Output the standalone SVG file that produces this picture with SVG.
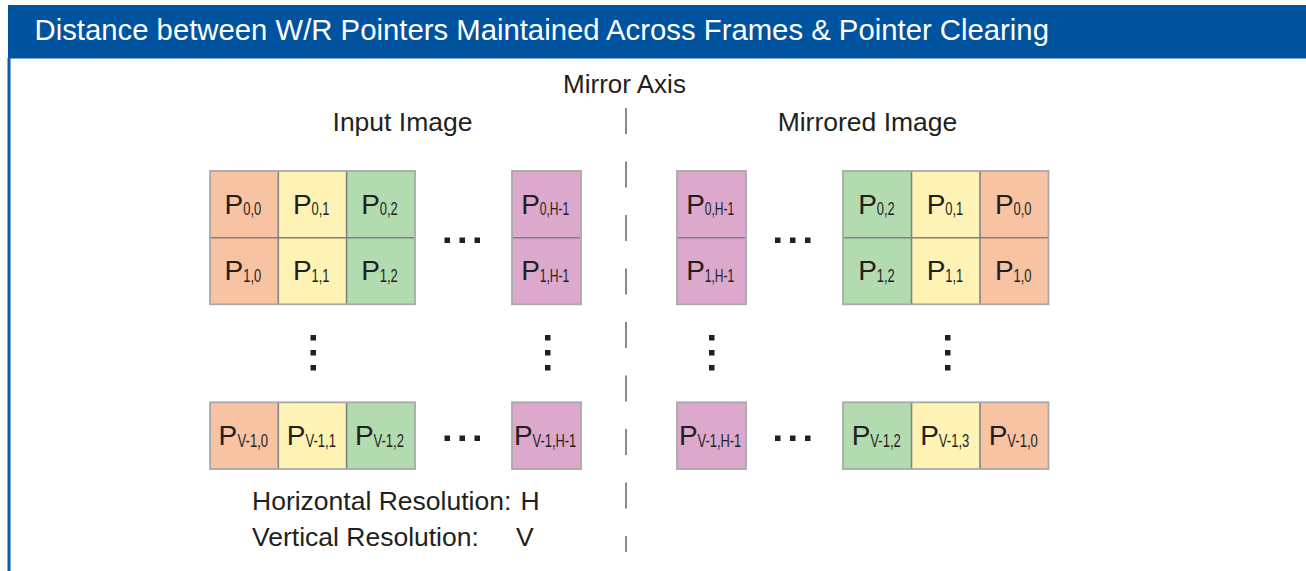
<svg xmlns="http://www.w3.org/2000/svg" width="1306" height="571" viewBox="0 0 1306 571">
<style>
.lbl{font-family:"Liberation Sans",Arial,sans-serif;fill:#231f20}
.P{font-family:"Liberation Sans",Arial,sans-serif;font-size:28px;fill:#231f20}
.s{font-family:"Liberation Sans",Arial,sans-serif;font-size:18px;fill:#231f20}
.pe{fill:#f8c3a3}.ye{fill:#fef3b5}.gr{fill:#b3dbb0}.ma{fill:#dca8cc}
.out{fill:none;stroke:#a7a9ac;stroke-width:1.8}
.div{stroke:#808285;stroke-width:1.6}
.dot{fill:#231f20}
</style>
<rect width="1306" height="571" fill="#ffffff"/>
<g id="frame">
<rect x="8" y="5" width="1298" height="53.5" fill="#00539f"/>
<rect x="7.5" y="58" width="3" height="513" fill="#0b5aa6"/>
<text x="34.5" y="40" font-family="Liberation Sans, Arial, sans-serif" font-size="29.3" fill="#ffffff">Distance between W/R Pointers Maintained Across Frames &amp; Pointer Clearing</text>
</g>
<g id="labels">
<text class="lbl" x="624.5" y="93.3" font-size="26" text-anchor="middle">Mirror Axis</text>
<text class="lbl" x="402.5" y="131" font-size="26.5" text-anchor="middle">Input Image</text>
<text class="lbl" x="867.5" y="131" font-size="26.5" text-anchor="middle">Mirrored Image</text>
<text class="lbl" x="252" y="509.5" font-size="26.5">Horizontal Resolution: <tspan x="520.5">H</tspan></text>
<text class="lbl" x="252" y="545.5" font-size="26.5">Vertical Resolution: <tspan x="516">V</tspan></text>
</g>
<g id="mirror-axis">
<line x1="626" y1="108" x2="626" y2="552" stroke="#58595b" stroke-width="1.4" stroke-dasharray="26 27.5"/>
</g>
<g id="connectors"></g>

<!-- Input image: top grid -->
<g id="input-grid-top">
<rect class="pe" x="210" y="171" width="68.3" height="133.3"/>
<rect class="ye" x="278.3" y="171" width="68.3" height="133.3"/>
<rect class="gr" x="346.6" y="171" width="68.4" height="133.3"/>
<line class="div" x1="278.3" y1="171" x2="278.3" y2="304.3"/>
<line class="div" x1="346.6" y1="171" x2="346.6" y2="304.3"/>
<line class="div" x1="210" y1="237.7" x2="415" y2="237.7"/>
<rect class="out" x="210" y="171" width="205" height="133.3"/>
</g>
<g id="in-p00"><text class="P" x="224.6" y="213.5">P</text><text class="s" x="243.2" y="215.3" textLength="18" lengthAdjust="spacingAndGlyphs">0,0</text></g>
<g id="in-p01"><text class="P" x="292.9" y="213.5">P</text><text class="s" x="311.5" y="215.3" textLength="18" lengthAdjust="spacingAndGlyphs">0,1</text></g>
<g id="in-p02"><text class="P" x="361.2" y="213.5">P</text><text class="s" x="379.8" y="215.3" textLength="18" lengthAdjust="spacingAndGlyphs">0,2</text></g>
<g id="in-p10"><text class="P" x="224.6" y="280.2">P</text><text class="s" x="243.2" y="282" textLength="18" lengthAdjust="spacingAndGlyphs">1,0</text></g>
<g id="in-p11"><text class="P" x="292.9" y="280.2">P</text><text class="s" x="311.5" y="282" textLength="18" lengthAdjust="spacingAndGlyphs">1,1</text></g>
<g id="in-p12"><text class="P" x="361.2" y="280.2">P</text><text class="s" x="379.8" y="282" textLength="18" lengthAdjust="spacingAndGlyphs">1,2</text></g>

<g id="in-col-h1">
<rect class="ma" x="512" y="171" width="69" height="133.3"/>
<line class="div" x1="512" y1="237.7" x2="581" y2="237.7"/>
<rect class="out" x="512" y="171" width="69" height="133.3"/>
<text class="P" x="521.2" y="213.5">P</text><text class="s" x="539.8" y="215.3" textLength="29.5" lengthAdjust="spacingAndGlyphs">0,H-1</text>
<text class="P" x="521.2" y="280.2">P</text><text class="s" x="539.8" y="282" textLength="29.5" lengthAdjust="spacingAndGlyphs">1,H-1</text>
</g>

<!-- Mirrored image: top -->
<g id="mir-col-h1">
<rect class="ma" x="677" y="171" width="69" height="133.3"/>
<line class="div" x1="677" y1="237.7" x2="746" y2="237.7"/>
<rect class="out" x="677" y="171" width="69" height="133.3"/>
<text class="P" x="686.2" y="213.5">P</text><text class="s" x="704.8" y="215.3" textLength="29.5" lengthAdjust="spacingAndGlyphs">0,H-1</text>
<text class="P" x="686.2" y="280.2">P</text><text class="s" x="704.8" y="282" textLength="29.5" lengthAdjust="spacingAndGlyphs">1,H-1</text>
</g>
<g id="mirror-grid-top">
<rect class="gr" x="843" y="171" width="68.5" height="133.3"/>
<rect class="ye" x="911.5" y="171" width="68.5" height="133.3"/>
<rect class="pe" x="980" y="171" width="68.5" height="133.3"/>
<line class="div" x1="911.5" y1="171" x2="911.5" y2="304.3"/>
<line class="div" x1="980" y1="171" x2="980" y2="304.3"/>
<line class="div" x1="843" y1="237.7" x2="1048.5" y2="237.7"/>
<rect class="out" x="843" y="171" width="205.5" height="133.3"/>
</g>
<g id="mir-p02"><text class="P" x="858.2" y="213.5">P</text><text class="s" x="876.8" y="215.3" textLength="18" lengthAdjust="spacingAndGlyphs">0,2</text></g>
<g id="mir-p01"><text class="P" x="926.7" y="213.5">P</text><text class="s" x="945.3" y="215.3" textLength="18" lengthAdjust="spacingAndGlyphs">0,1</text></g>
<g id="mir-p00"><text class="P" x="994.9" y="213.5">P</text><text class="s" x="1013.5" y="215.3" textLength="18" lengthAdjust="spacingAndGlyphs">0,0</text></g>
<g id="mir-p12"><text class="P" x="858.2" y="280.2">P</text><text class="s" x="876.8" y="282" textLength="18" lengthAdjust="spacingAndGlyphs">1,2</text></g>
<g id="mir-p11"><text class="P" x="926.7" y="280.2">P</text><text class="s" x="945.3" y="282" textLength="18" lengthAdjust="spacingAndGlyphs">1,1</text></g>
<g id="mir-p10"><text class="P" x="994.9" y="280.2">P</text><text class="s" x="1013.5" y="282" textLength="18" lengthAdjust="spacingAndGlyphs">1,0</text></g>

<!-- Bottom row: input -->
<g id="input-grid-bottom">
<rect class="pe" x="210" y="402.3" width="68.3" height="66.7"/>
<rect class="ye" x="278.3" y="402.3" width="68.3" height="66.7"/>
<rect class="gr" x="346.6" y="402.3" width="68.4" height="66.7"/>
<line class="div" x1="278.3" y1="402.3" x2="278.3" y2="469"/>
<line class="div" x1="346.6" y1="402.3" x2="346.6" y2="469"/>
<rect class="out" x="210" y="402.3" width="205" height="66.7"/>
</g>
<g id="in-pv0"><text class="P" x="218.6" y="445">P</text><text class="s" x="237.6" y="446.8" textLength="30.5" lengthAdjust="spacingAndGlyphs">V-1,0</text></g>
<g id="in-pv1"><text class="P" x="286.7" y="445">P</text><text class="s" x="305.4" y="446.8" textLength="30.5" lengthAdjust="spacingAndGlyphs">V-1,1</text></g>
<g id="in-pv2"><text class="P" x="355" y="445">P</text><text class="s" x="373.5" y="446.8" textLength="30.5" lengthAdjust="spacingAndGlyphs">V-1,2</text></g>
<g id="in-pvh">
<rect class="ma" x="512" y="402.3" width="69" height="66.7"/>
<rect class="out" x="512" y="402.3" width="69" height="66.7"/>
<text class="P" x="514.1" y="445">P</text><text class="s" x="532.6" y="446.8" textLength="43.7" lengthAdjust="spacingAndGlyphs">V-1,H-1</text>
</g>

<!-- Bottom row: mirrored -->
<g id="mir-pvh">
<rect class="ma" x="677" y="402.3" width="69" height="66.7"/>
<rect class="out" x="677" y="402.3" width="69" height="66.7"/>
<text class="P" x="679.1" y="445">P</text><text class="s" x="697.6" y="446.8" textLength="43.7" lengthAdjust="spacingAndGlyphs">V-1,H-1</text>
</g>
<g id="mirror-grid-bottom">
<rect class="gr" x="843" y="402.3" width="68.5" height="66.7"/>
<rect class="ye" x="911.5" y="402.3" width="68.5" height="66.7"/>
<rect class="pe" x="980" y="402.3" width="68.5" height="66.7"/>
<line class="div" x1="911.5" y1="402.3" x2="911.5" y2="469"/>
<line class="div" x1="980" y1="402.3" x2="980" y2="469"/>
<rect class="out" x="843" y="402.3" width="205.5" height="66.7"/>
</g>
<g id="mir-pv2"><text class="P" x="851.8" y="445">P</text><text class="s" x="870.3" y="446.8" textLength="30.5" lengthAdjust="spacingAndGlyphs">V-1,2</text></g>
<g id="mir-pv3"><text class="P" x="920.3" y="445">P</text><text class="s" x="938.8" y="446.8" textLength="30.5" lengthAdjust="spacingAndGlyphs">V-1,3</text></g>
<g id="mir-pv0"><text class="P" x="988.8" y="445">P</text><text class="s" x="1007.3" y="446.8" textLength="30.5" lengthAdjust="spacingAndGlyphs">V-1,0</text></g>

<!-- Ellipses -->
<g id="ellipses">
<rect class="dot" x="444.5" y="237.5" width="5.5" height="5.5"/>
<rect class="dot" x="459.5" y="237.5" width="5.5" height="5.5"/>
<rect class="dot" x="474.5" y="237.5" width="5.5" height="5.5"/>
<rect class="dot" x="775" y="237.5" width="5.5" height="5.5"/>
<rect class="dot" x="790" y="237.5" width="5.5" height="5.5"/>
<rect class="dot" x="805" y="237.5" width="5.5" height="5.5"/>
<rect class="dot" x="444.5" y="435.5" width="5.5" height="5.5"/>
<rect class="dot" x="459.5" y="435.5" width="5.5" height="5.5"/>
<rect class="dot" x="474.5" y="435.5" width="5.5" height="5.5"/>
<rect class="dot" x="775" y="435.5" width="5.5" height="5.5"/>
<rect class="dot" x="790" y="435.5" width="5.5" height="5.5"/>
<rect class="dot" x="805" y="435.5" width="5.5" height="5.5"/>
<rect class="dot" x="310.5" y="335" width="5.5" height="5.5"/>
<rect class="dot" x="310.5" y="350" width="5.5" height="5.5"/>
<rect class="dot" x="310.5" y="365" width="5.5" height="5.5"/>
<rect class="dot" x="545" y="335" width="5.5" height="5.5"/>
<rect class="dot" x="545" y="350" width="5.5" height="5.5"/>
<rect class="dot" x="545" y="365" width="5.5" height="5.5"/>
<rect class="dot" x="709" y="335" width="5.5" height="5.5"/>
<rect class="dot" x="709" y="350" width="5.5" height="5.5"/>
<rect class="dot" x="709" y="365" width="5.5" height="5.5"/>
<rect class="dot" x="945" y="335" width="5.5" height="5.5"/>
<rect class="dot" x="945" y="350" width="5.5" height="5.5"/>
<rect class="dot" x="945" y="365" width="5.5" height="5.5"/>
</g>
</svg>
